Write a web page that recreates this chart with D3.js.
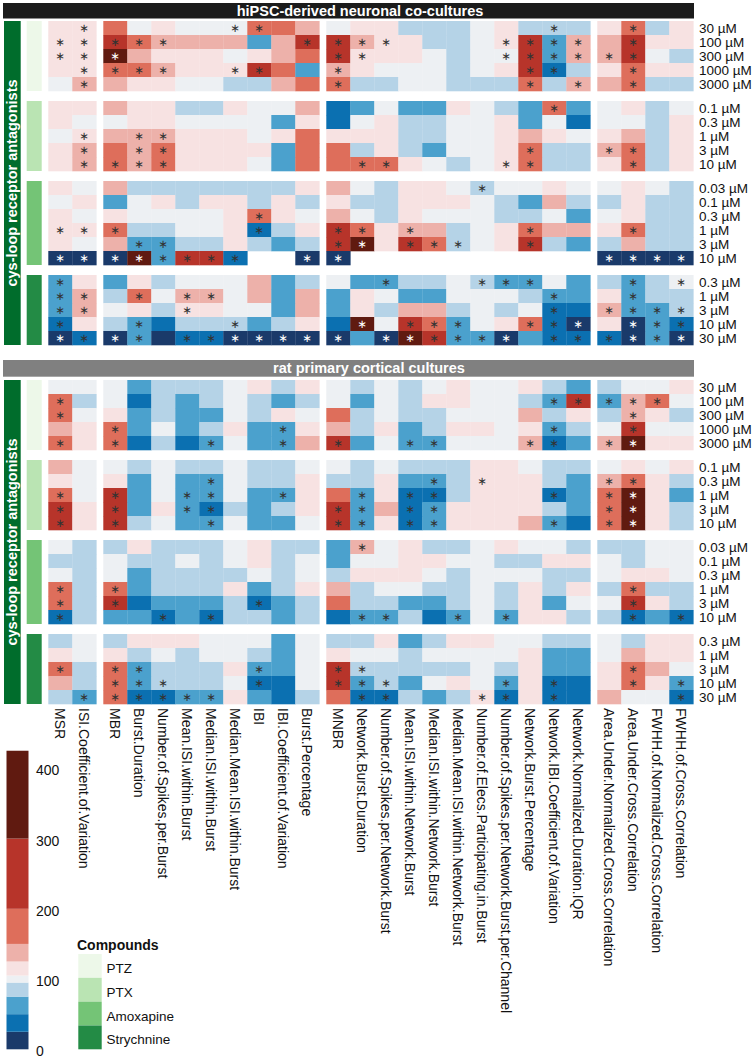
<!DOCTYPE html>
<html><head><meta charset="utf-8">
<script src="https://cdn.jsdelivr.net/npm/d3@7"></script>
<style>
body{margin:0;background:#fff}
svg{display:block}
text{font-family:"Liberation Sans",Arial,Helvetica,sans-serif}
text.sig{font-family:"DejaVu Sans",sans-serif}
</style>
</head><body>
<svg id="chart" width="755" height="1062"></svg>
<script>
// ---------------- data ----------------
const columns = ["MSR","ISI.Coefficient.of.Variation","MBR","Burst.Duration","Number.of.Spikes.per.Burst",
 "Mean.ISI.within.Burst","Median.ISI.within.Burst","Median.Mean.ISI.within.Burst","IBI",
 "IBI.Coefficient.of.Variation","Burst.Percentage","MNBR","Network.Burst.Duration",
 "Number.of.Spikes.per.Network.Burst","Mean.ISI.within.Network.Burst","Median.ISI.within.Network.Burst",
 "Median.Mean.ISI.within.Network.Burst","Number.of.Elecs.Participating.in.Burst",
 "Number.of.Spikes.per.Network.Burst.per.Channel","Network.Burst.Percentage",
 "Network.IBI.Coefficient.of.Variation","Network.Normalized.Duration.IQR",
 "Area.Under.Normalized.Cross.Correlation","Area.Under.Cross.Correlation",
 "FWHH.of.Normalized.Cross.Correlation","FWHH.of.Cross.Correlation"];
const columnGroup = [0,0,1,1,1,1,1,1,1,1,1,2,2,2,2,2,2,2,2,2,2,2,3,3,3,3];

const compounds = ["PTZ","PTX","Amoxapine","Strychnine"];
const compoundColors = ["#edf8e9","#bae4b3","#74c476","#238b45"];
const dosesPTZ = ["30 µM","100 µM","300 µM","1000 µM","3000 µM"];
const dosesPTX = ["0.1 µM","0.3 µM","1 µM","3 µM","10 µM"];
const dosesAmoxapine = ["0.03 µM","0.1 µM","0.3 µM","1 µM","3 µM","10 µM"];
const dosesStrychnine = ["0.3 µM","1 µM","3 µM","10 µM","30 µM"];

// percent of control, hiPSC-derived neuronal co-cultures
const hipscPTZ = [
 [115,115,175,100,115,100,100,100,175,175,138,100,115,115,85,85,85,100,115,85,85,85,115,175,85,115],
 [115,115,250,175,138,138,138,138,62,138,250,250,138,115,115,85,85,100,115,250,62,138,138,250,115,115],
 [115,115,340,138,115,115,115,100,115,138,175,250,115,115,115,100,85,100,100,250,62,138,138,250,100,85],
 [115,115,175,175,138,115,115,115,250,175,62,138,115,100,100,100,85,100,115,250,38,85,115,175,115,115],
 [100,138,138,115,115,100,100,85,85,138,175,175,85,85,100,100,85,85,85,175,85,138,138,175,85,85]];
const hipscPTX = [
 [115,115,138,115,115,85,85,115,100,100,138,38,62,100,62,62,115,100,85,62,175,62,100,115,85,100],
 [115,100,100,115,115,100,100,100,100,62,115,38,100,115,85,85,100,100,115,62,100,38,100,100,85,115],
 [100,115,138,138,138,115,115,115,100,115,175,115,115,115,85,85,100,100,115,138,115,100,115,138,85,115],
 [115,138,175,138,175,115,115,115,115,62,175,175,85,115,85,62,100,100,115,175,85,85,138,175,85,115],
 [115,138,175,138,175,115,115,115,100,62,175,175,175,175,115,100,85,100,115,175,85,85,115,175,85,115]];
const hipscAmoxapine = [
 [115,100,138,85,85,85,85,85,85,85,115,138,100,85,115,115,100,85,100,100,115,100,100,115,100,85],
 [100,115,62,100,115,85,115,115,85,115,85,115,85,85,115,115,115,100,85,62,138,85,85,115,85,85],
 [115,100,115,100,100,100,100,115,175,115,100,138,100,85,115,100,100,100,85,85,100,62,100,115,85,85],
 [115,115,175,85,85,100,100,115,38,85,115,250,175,115,138,138,85,100,115,175,138,138,115,175,85,85],
 [115,100,138,62,62,85,85,115,85,62,85,250,340,115,250,175,85,100,115,250,85,62,85,138,85,85],
 [15,15,15,340,62,250,250,38,null,null,15,15,null,null,null,null,null,null,null,null,null,null,15,15,15,15]];
const hipscStrychnine = [
 [62,115,62,115,85,100,100,100,138,62,85,100,62,62,85,85,100,85,62,62,100,62,85,62,85,100],
 [62,138,85,175,100,138,138,100,138,62,138,62,115,100,62,62,100,100,100,85,62,62,115,62,85,85],
 [62,138,100,115,85,115,115,100,100,62,138,62,115,85,138,138,85,100,85,100,38,38,138,62,62,85],
 [38,115,85,62,38,85,85,85,62,85,115,38,340,100,250,175,62,100,115,175,38,15,115,15,62,38],
 [15,38,15,62,15,38,38,15,15,15,15,15,62,15,340,250,62,62,15,62,38,38,38,15,62,15]];

// significant columns (asterisks), hiPSC
const hipscPTZSig = [[1,7,8,20,23],[0,1,2,3,4,10,11,12,13,18,19,20,21,23],[0,1,2,11,12,18,19,20,21,22,23],[1,2,3,4,7,8,11,19,20,23],[1,11,19,21,23]];
const hipscPTXSig = [[20],[],[1,3,4],[1,3,4,19,22,23],[1,2,3,4,12,13,18,19,23]];
const hipscAmoxapineSig = [[17],[],[8],[0,1,2,8,11,12,14,19,23],[3,4,11,12,14,15,16,19],[0,1,2,3,4,5,6,7,10,11,22,23,24,25]];
const hipscStrychnineSig = [[0,13,17,18,19,23,25],[0,1,3,5,6,20,23],[0,1,5,20,22,23,24,25],[0,3,7,12,14,15,16,19,20,21,23,24,25],[0,1,2,3,5,6,7,8,9,10,11,13,14,15,16,17,18,20,21,22,23,24,25]];

// percent of control, rat primary cortical cultures
const ratPTZ = [
 [100,100,100,62,85,85,85,100,115,85,115,100,85,100,85,100,115,100,100,115,85,62,85,100,100,115],
 [175,85,100,38,85,62,85,100,85,62,85,100,62,100,85,115,115,100,100,85,62,250,62,138,175,100],
 [175,100,115,62,85,62,62,100,85,115,100,175,85,100,85,85,100,100,100,138,85,115,85,138,115,85],
 [138,115,175,62,100,62,85,115,62,62,115,138,85,115,62,85,115,115,100,115,62,85,100,250,100,100],
 [175,115,175,38,85,38,62,100,62,62,138,250,62,100,62,62,100,100,100,138,38,62,138,340,115,115]];
const ratPTX = [
 [138,100,100,85,100,85,85,100,85,85,100,100,85,100,85,85,85,115,115,100,85,85,100,115,100,115],
 [115,100,115,62,100,62,62,100,85,85,115,85,85,115,62,62,85,115,115,115,85,62,138,175,115,85],
 [175,100,250,62,100,62,62,100,62,62,115,175,62,115,38,38,85,115,115,115,38,62,175,340,115,62],
 [250,115,250,62,115,62,38,85,62,85,115,250,62,138,38,62,115,115,115,115,85,62,175,340,115,85],
 [250,115,250,85,100,62,62,100,62,62,100,250,62,115,38,62,115,115,115,138,62,38,175,340,115,85]];
const ratAmoxapine = [
 [100,85,85,115,85,85,85,100,115,85,85,62,138,100,115,85,85,100,115,100,100,85,85,85,100,100],
 [85,85,100,85,85,100,85,100,115,85,100,62,100,100,115,115,100,100,85,85,115,115,100,85,100,100],
 [100,85,100,62,85,85,85,85,100,85,100,85,115,115,115,100,85,100,100,100,85,85,100,115,115,100],
 [175,85,175,62,85,85,85,115,62,85,115,138,85,100,100,85,85,100,85,115,85,115,85,175,85,85],
 [175,85,250,38,62,62,62,85,38,62,85,175,85,85,62,62,85,100,85,115,62,100,100,250,115,85],
 [38,85,62,62,38,62,38,85,85,62,85,38,62,62,85,38,62,100,62,115,115,85,85,38,62,38]];
const ratStrychnine = [
 [85,100,85,115,115,115,100,100,100,62,100,85,85,115,62,85,115,115,100,100,85,85,100,85,115,115],
 [115,100,115,85,100,85,100,100,85,62,100,115,100,100,85,100,100,100,100,115,62,62,100,138,115,115],
 [175,85,175,62,85,85,85,115,62,62,100,250,85,85,85,85,85,100,85,115,62,62,115,175,138,100],
 [138,85,175,62,85,85,85,100,38,38,100,250,62,85,62,100,115,100,62,115,38,38,115,175,115,62],
 [85,62,175,38,38,62,62,115,62,38,85,175,38,38,85,62,85,115,38,115,38,38,138,100,100,38]];

const ratPTZSig = [[],[0,20,21,22,23,24],[0,23],[2,9,20,23],[0,2,6,9,11,14,15,19,20,22,23]];
const ratPTXSig = [[],[6,15,17,22,23],[0,2,5,6,9,12,14,15,20,22,23],[0,2,5,6,11,12,14,15,22,23],[0,2,6,11,12,14,15,20,22,23]];
const ratAmoxapineSig = [[12],[],[],[0,2,23],[0,2,8,23],[0,4,6,12,13,16,18,23,25]];
const ratStrychnineSig = [[],[],[0,2,3,8,11,12,23],[2,3,4,8,11,12,13,18,20,23,25],[1,2,3,4,5,6,12,13,17,18,20,25]];

// colour legend
const colorBreaks = [0,25,50,75,95,105,125,150,200,300,425];
const colorBins = ["#1a3a6a","#0b70b1","#4ba1cd","#b5d3e7","#edf0f3","#f7e2e2","#edb1aa","#de6e5b","#b7342a","#601a10"];
const legendTicks = [0,100,200,300,400];

// ---------------- drawing ----------------
const svg = d3.select("#chart");
const color = d3.scaleThreshold().domain(colorBreaks.slice(1,-1)).range(colorBins);

const cellW = 24, colGap = 7, rowH = 14, rowGap = 10;
const xBand = d3.scaleBand().domain(columns).range([48.3, 48.3 + columns.length*cellW]);
const xPos = c => xBand(columns[c]) + columnGroup[c]*colGap;

const dosesBy = [dosesPTZ, dosesPTX, dosesAmoxapine, dosesStrychnine];
const rowKeys = [];
compounds.forEach((c,gi) => dosesBy[gi].forEach((d,ri) => rowKeys.push({c, gi, d, ri, key: c+"|"+d})));
const yBand = d3.scaleBand().domain(rowKeys.map(r=>r.key)).range([0, rowKeys.length*rowH]);

const panels = [
  {title:"hiPSC-derived neuronal co-cultures", bar:"#1b1b1b", top:21, barY:3, barH:15.5, titleX:360,
   data:[hipscPTZ,hipscPTX,hipscAmoxapine,hipscStrychnine],
   sig:[hipscPTZSig,hipscPTXSig,hipscAmoxapineSig,hipscStrychnineSig]},
  {title:"rat primary cortical cultures", bar:"#808080", top:380, barY:360, barH:16.7, titleX:369,
   data:[ratPTZ,ratPTX,ratAmoxapine,ratStrychnine],
   sig:[ratPTZSig,ratPTXSig,ratAmoxapineSig,ratStrychnineSig]}
];

panels.forEach(p => {
  const g = svg.append("g");
  const yPos = r => p.top + yBand(r.key) + r.gi*rowGap;
  const bottom = yPos(rowKeys[rowKeys.length-1]) + rowH;

  g.append("rect").attr("x",3).attr("y",p.barY).attr("width",691).attr("height",p.barH).attr("fill",p.bar);
  g.append("text").attr("x",p.titleX).attr("y",p.barY+p.barH/2+5).attr("text-anchor","middle")
    .attr("fill","#fff").attr("font-weight","bold").attr("font-size",14.5).text(p.title);

  // left strip
  g.append("rect").attr("x",4).attr("y",p.top).attr("width",16.7).attr("height",bottom-p.top).attr("fill","#006d2c");
  g.append("text").attr("transform",`translate(${12.35+5},${(p.top+bottom)/2}) rotate(-90)`)
    .attr("text-anchor","middle").attr("fill","#fff").attr("font-weight","bold").attr("font-size",14.5)
    .text("cys-loop receptor antagonists");

  // compound strips
  compounds.forEach((c,gi) => {
    const rows = rowKeys.filter(r=>r.gi===gi);
    const y0 = yPos(rows[0]), y1 = yPos(rows[rows.length-1]) + rowH;
    g.append("rect").attr("x",26.7).attr("y",y0).attr("width",15).attr("height",y1-y0).attr("fill",compoundColors[gi]);
  });

  // cells
  const cells = [];
  rowKeys.forEach(r => {
    p.data[r.gi][r.ri].forEach((v,ci) => {
      cells.push({r, ci, v, sig: p.sig[r.gi][r.ri].includes(ci)});
    });
  });
  g.selectAll("rect.cell").data(cells.filter(d=>d.v!==null)).join("rect").attr("class","cell")
    .attr("x",d=>xPos(d.ci)).attr("y",d=>yPos(d.r)).attr("width",cellW+0.3).attr("height",rowH+0.3)
    .attr("fill",d=>color(d.v));
  g.selectAll("text.sig").data(cells.filter(d=>d.sig && d.v!==null)).join("text").attr("class","sig")
    .attr("x",d=>xPos(d.ci)+cellW/2).attr("y",d=>yPos(d.r)+rowH/2)
    .attr("dominant-baseline","central")
    .attr("text-anchor","middle").attr("font-size",11.5)
    .attr("fill",d=> (d.v<25 || d.v>=300) ? "#ffffff" : "#333333").text("\u2217");

  // row labels
  g.selectAll("text.row").data(rowKeys).join("text").attr("class","row")
    .attr("x",699).attr("y",d=>yPos(d)+rowH/2+4.8).attr("font-size",13.5).attr("fill","#111").text(d=>d.d);

  p.bottom = bottom;
});

// column labels
const labY = panels[1].bottom + 4;
svg.append("g").selectAll("text").data(columns).join("text")
  .attr("transform",(d,i)=>`translate(${xPos(i)+cellW/2},${labY}) rotate(90)`)
  .attr("dy","0.35em").attr("font-size",14).attr("fill","#111").text(d=>d);

// colour legend
const ly = d3.scaleLinear().domain([0,400]).range([1049.3,768.3]);
const leg = svg.append("g");
leg.selectAll("rect").data(colorBins).join("rect")
  .attr("x",6.5).attr("width",22)
  .attr("y",(d,i)=>ly(colorBreaks[i+1])).attr("height",(d,i)=>ly(colorBreaks[i])-ly(colorBreaks[i+1]))
  .attr("fill",d=>d);
leg.selectAll("text").data(legendTicks).join("text")
  .attr("x",36).attr("y",d=>ly(d)+2+5).attr("font-size",14).attr("fill","#111").text(d=>d);

// compounds legend
const cl = svg.append("g");
cl.append("text").attr("x",77).attr("y",950).attr("font-weight","bold").attr("font-size",14).attr("fill","#111").text("Compounds");
const boxY = d3.scaleBand().domain(compounds).range([954,1049.3]);
cl.selectAll("rect").data(compounds).join("rect")
  .attr("x",78.3).attr("y",d=>boxY(d)).attr("width",23.4).attr("height",boxY.bandwidth())
  .attr("fill",(d,i)=>compoundColors[i]);
cl.selectAll("text.lab").data(compounds).join("text").attr("class","lab")
  .attr("x",106.5).attr("y",d=>boxY(d)+boxY.bandwidth()/2+7).attr("font-size",13.5).attr("fill","#111").text(d=>d);
</script>
</body></html>
